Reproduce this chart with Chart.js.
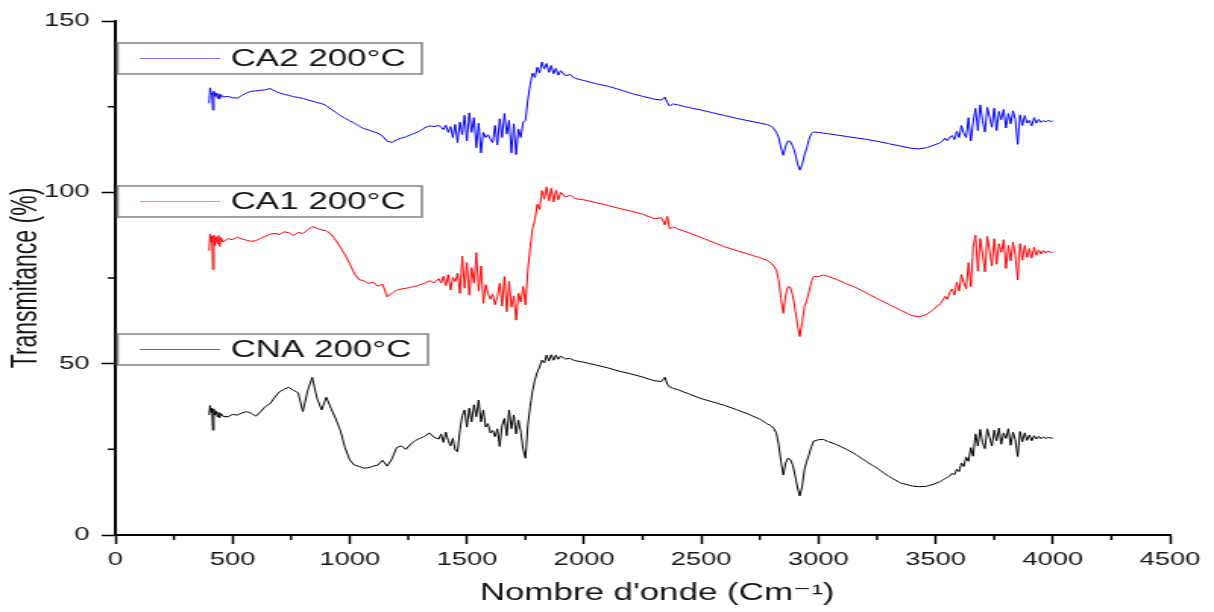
<!DOCTYPE html>
<html>
<head>
<meta charset="utf-8">
<title>Transmitance FTIR</title>
<script src="https://cdn.jsdelivr.net/npm/chart.js@4.4.1/dist/chart.umd.min.js"></script>
<style>
  html, body { margin: 0; padding: 0; background: #fff; }
</style>
</head>
<body>
<!-- the original figure is stretched horizontally, so the canvas is drawn narrow and widened -->
<canvas id="ftir" width="800" height="612" style="display:block;width:1214px;height:612px"></canvas>
<script>
// wavenumbers (cm-1) shared by the three spectra
const WAVENUMBERS = [
  400, 404, 408, 412, 416, 420, 425, 430, 435, 440, 445, 450, 460,
  480, 500, 520, 540, 560, 580, 600, 620, 640, 660, 680, 700, 720, 740, 760, 780, 800, 820, 840, 860,
  880, 900, 920, 940, 960, 980, 1000, 1020, 1040, 1060, 1080, 1100, 1120, 1140, 1160, 1180, 1200,
  1220, 1240, 1260, 1280, 1300, 1320, 1340, 1360, 1380,
  1390, 1400, 1410, 1420, 1430, 1440, 1450, 1460, 1470, 1480, 1490, 1500, 1510, 1520, 1530, 1540,
  1550, 1560, 1570, 1580, 1590, 1600, 1610, 1620, 1630, 1640, 1650, 1660, 1670, 1680, 1690, 1700,
  1710, 1720, 1730, 1740, 1750, 1760,
  1770, 1780, 1790, 1800, 1810, 1820, 1830, 1840, 1850, 1860, 1870, 1880, 1890, 1900, 1920, 1940, 1960,
  2000, 2050, 2100, 2150, 2200, 2250, 2300, 2330, 2345, 2355, 2365, 2380, 2400, 2450, 2500, 2550,
  2600, 2650, 2700, 2750, 2780,
  2800, 2810, 2820, 2830, 2840, 2850, 2860, 2870, 2880, 2890, 2900, 2910, 2920, 2930, 2940, 2950,
  2960, 2970, 2980, 3000, 3020, 3040,
  3080, 3120, 3160, 3200, 3250, 3300, 3350, 3400, 3430, 3460, 3490, 3520,
  3530, 3540, 3550, 3560, 3570, 3580, 3590, 3600, 3610, 3620, 3630, 3640, 3650, 3660, 3670, 3680,
  3690, 3700, 3710, 3720, 3730, 3740, 3750, 3760, 3770, 3780, 3790, 3800, 3810, 3820, 3830, 3840,
  3850, 3860, 3870, 3880, 3890, 3900, 3910, 3920, 3930, 3940, 3950, 3960, 3970, 3980, 3990, 4000
];

const CA2_200 = [
  126.0, 130.5, 129.0, 128.5, 124.0, 129.5, 128.0, 129.0, 127.5, 128.8, 127.2, 128.5, 127.8,
  128.0, 127.6, 127.5, 128.3, 129.0, 129.5, 129.6, 129.8, 129.9, 130.3, 129.6, 129.0, 128.6, 128.3, 127.9, 127.7, 127.4, 127.0, 126.6, 126.2,
  125.9, 125.3, 124.3, 123.3, 122.4, 121.6, 120.9, 120.2, 119.3, 118.6, 118.2, 117.7, 117.3, 116.4, 114.9, 114.6, 115.3,
  115.8, 116.2, 116.8, 117.3, 118.0, 118.8, 119.4, 119.2, 119.5,
  119.0, 118.3, 119.6, 117.5, 119.2, 116.0, 119.8, 114.5, 120.5, 116.8, 122.5, 115.0, 123.2, 117.5, 121.8, 113.0,
  120.2, 111.5, 117.5, 116.0, 116.8, 115.5, 114.5, 119.5, 113.8, 121.5, 116.0, 123.0, 117.0, 121.0, 111.5, 120.0,
  111.0, 118.5, 116.0, 120.5, 121.0, 127.0,
  131.5, 134.8, 133.5, 136.5, 134.8, 138.0, 136.0, 137.6, 135.0, 137.0, 134.6, 136.2, 134.2, 135.5, 134.0, 134.4, 133.3,
  132.6, 131.7, 131.0, 130.0, 128.9, 128.0, 127.2, 126.9, 127.8, 126.2, 125.2, 125.8, 125.5, 124.7, 124.0, 123.2,
  122.4, 121.6, 120.9, 120.2, 119.8,
  119.2, 118.5, 117.6, 116.0, 113.0, 110.8, 113.5, 115.0, 114.8, 113.5, 111.5, 108.5, 106.5, 108.0, 110.8, 113.0,
  115.5, 117.2, 117.6, 117.5, 117.3, 117.1,
  116.7, 116.3, 115.9, 115.5, 114.9, 114.2, 113.5, 112.8, 112.7, 113.0, 113.7, 114.5,
  115.0, 115.8, 115.1, 116.0, 116.6, 115.4, 117.8, 116.0, 119.5, 117.2, 116.0, 121.8, 115.0, 120.5, 124.5, 118.0,
  125.5, 121.0, 117.6, 124.8, 122.0, 119.0, 124.6, 118.0, 123.6, 121.2, 124.2, 118.8, 123.0, 120.0, 123.8, 121.2,
  114.0, 122.6, 119.5, 122.4, 120.2, 121.0, 119.4, 121.8, 120.2, 121.3, 120.4, 120.9, 120.6, 121.0, 120.7, 120.8
];

const CA1_200 = [
  83.0, 87.8, 85.5, 87.2, 77.5, 87.5, 84.5, 87.0, 85.0, 87.4, 84.2, 86.8, 85.5,
  86.5, 86.2, 86.9, 86.4, 86.0, 85.7, 85.9, 86.6, 87.2, 87.8, 88.0, 87.7, 88.5, 88.2, 87.4, 88.3, 88.0, 89.0, 90.0, 89.5,
  89.0, 88.8, 87.8, 86.0, 84.0, 81.8, 79.2, 76.2, 74.5, 74.2, 73.4, 73.8, 72.6, 73.2, 69.5, 70.6, 71.4,
  71.8, 72.0, 72.3, 72.6, 73.0, 73.5, 74.2, 73.6, 74.8,
  73.5, 75.5, 72.8, 76.0, 71.5, 75.2, 74.0, 76.4, 70.5, 81.4, 72.0, 79.5, 70.0, 78.0, 73.5, 82.4,
  71.2, 78.5, 67.6, 73.0, 70.5, 68.8, 70.2, 67.2, 69.6, 73.5, 66.8, 75.4, 65.2, 74.0, 66.5, 69.8,
  62.7, 70.5, 68.0, 72.5, 67.1, 77.3,
  84.0, 89.5, 92.0, 96.5, 95.0, 100.5, 98.0, 101.6, 97.5, 101.2, 97.2, 100.6, 97.8, 100.0, 98.6, 99.2, 98.2,
  97.8, 97.0, 96.2, 95.3, 94.5, 93.6, 92.3, 92.6, 90.5, 93.0, 89.3, 89.9, 89.3, 88.1, 86.8, 85.4,
  84.1, 83.0, 82.0, 80.9, 80.2,
  79.2, 78.4, 77.3, 74.5, 69.0, 64.7, 70.0, 72.5, 72.2, 70.0, 66.0, 61.5, 57.9, 62.0, 66.6, 68.5,
  71.0, 74.0, 75.4, 75.4, 75.9, 75.5,
  74.5, 73.3, 72.2, 70.8, 69.0, 67.3, 65.6, 64.0, 63.7, 64.3, 65.8, 67.5,
  68.5, 69.6, 68.8, 70.8, 71.8, 70.0, 73.8, 71.2, 76.0, 73.5, 71.8, 79.5, 72.5, 84.0, 87.5, 77.0,
  86.5, 82.0, 76.8, 87.2, 83.0, 78.5, 86.5, 79.0, 85.0, 82.5, 86.2, 77.8, 84.5, 80.0, 85.5, 81.5,
  74.4, 85.0, 80.2, 84.5, 81.0, 83.6, 80.8, 84.0, 81.6, 83.2, 82.0, 83.0, 82.3, 82.9, 82.5, 82.6
];

const CNA_200 = [
  35.0, 37.8, 35.8, 37.0, 30.6, 36.8, 35.0, 36.2, 34.5, 35.8, 34.2, 35.5, 34.6,
  34.5, 35.2, 35.0, 35.6, 36.0, 35.5, 34.7, 36.0, 37.5, 38.3, 40.2, 41.8, 42.5, 43.1, 42.2, 41.5, 36.0, 42.0, 46.0, 40.0,
  36.5, 40.2, 37.0, 34.0, 30.5, 25.5, 21.9, 20.4, 20.0, 19.5, 19.6, 20.1, 20.4, 21.8, 20.1, 22.2, 25.5,
  26.0, 25.0, 26.5, 27.6, 28.2, 28.8, 29.8, 28.5, 28.0,
  29.5, 27.0, 30.0, 27.6, 26.0, 28.2, 24.8, 24.3, 30.5, 34.8, 36.5, 31.5, 37.0, 33.0, 38.0, 34.5,
  39.4, 33.0, 36.5, 31.5, 32.5, 29.8, 30.5, 28.7, 31.0, 25.8, 32.0, 34.0, 29.0, 36.5, 31.0, 35.0,
  29.5, 33.5, 30.0, 25.0, 22.4, 32.0,
  37.5, 42.0, 45.2, 47.5, 49.0, 51.0, 50.2, 52.5, 50.8, 52.6, 51.0, 52.5, 51.3, 52.2, 51.4, 51.5, 50.9,
  50.4, 49.6, 48.8, 47.8, 47.0, 46.1, 45.0, 44.8, 46.0, 44.0, 43.2, 42.8, 42.4, 41.1, 39.8, 38.8,
  37.8, 36.6, 35.3, 33.8, 32.5,
  31.8, 31.0, 29.8, 26.5, 21.5, 17.5, 21.0, 22.4, 22.0, 20.5, 17.5, 14.0, 11.4, 14.0, 19.0, 21.5,
  23.5, 25.8, 27.4, 27.8, 27.9, 27.3,
  26.3, 25.0, 23.5, 21.6, 19.5, 17.1, 15.2, 14.3, 14.1, 14.2, 14.8, 15.6,
  16.0, 16.5, 16.8, 17.2, 18.0, 17.6, 19.2, 18.5, 21.0, 20.0, 22.8, 21.5, 25.5, 23.0, 29.5, 26.0,
  30.8, 27.0, 25.2, 31.0, 28.5, 26.0, 30.6, 27.5, 31.2, 26.5, 29.8, 28.2, 31.0, 26.2, 30.0, 27.8,
  22.9, 30.2, 27.2, 29.8, 27.6, 29.2, 27.5, 29.0, 28.0, 28.8, 28.1, 28.6, 28.2, 28.5, 28.3, 28.3
];

const SERIES_LABELS = ["CA2 200°C", "CA1 200°C", "CNA 200°C"];
const SERIES_COLORS = ["#0000ff", "#ff0000", "#000000"];
const LEGEND_SAMPLE_COLORS = ["#7a7aff", "#ff8a8a", "#707070"];
const X_TICK_STEP = 500;
const Y_TICK_STEP = 50;

const FONT = "'Liberation Sans', Arial, 'DejaVu Sans', sans-serif";

function toPoints(values) {
  return WAVENUMBERS.map(function(w, i) { return { x: w, y: values[i] }; });
}

// minor ticks halfway between the labelled ones
const minorTicks = {
  id: "minorTicks",
  afterDraw: function(chart) {
    const ctx = chart.ctx;
    const xs = chart.scales.x, ys = chart.scales.y;
    ctx.save();
    ctx.strokeStyle = "#000";
    ctx.lineWidth = 1.5;
    ctx.beginPath();
    for (let v = X_TICK_STEP / 2; v < xs.max; v += X_TICK_STEP) {
      const px = xs.getPixelForValue(v);
      ctx.moveTo(px, xs.top);
      ctx.lineTo(px, xs.top + 5);
    }
    for (let v = Y_TICK_STEP / 2; v < ys.max; v += Y_TICK_STEP) {
      const py = ys.getPixelForValue(v);
      ctx.moveTo(ys.right, py);
      ctx.lineTo(ys.right - 5, py);
    }
    ctx.stroke();
    ctx.restore();
  }
};

// one framed legend entry above each spectrum
const stackedLegend = {
  id: "stackedLegend",
  afterDraw: function(chart) {
    const ctx = chart.ctx;
    const area = chart.chartArea;
    const tops = [43, 186, 334];
    const rights = [278, 278, 282];
    ctx.save();
    tops.forEach(function(top, i) {
      const left = area.left + 1.5;
      const h = 31;
      ctx.fillStyle = "#fff";
      ctx.fillRect(left, top, rights[i] - left, h);
      ctx.strokeStyle = "#8a8a8a";
      ctx.lineWidth = 1.6;
      ctx.strokeRect(left, top, rights[i] - left, h);
      const cy = top + h / 2;
      ctx.strokeStyle = LEGEND_SAMPLE_COLORS[i];
      ctx.lineWidth = 1;
      ctx.beginPath();
      ctx.moveTo(92, cy);
      ctx.lineTo(145, cy);
      ctx.stroke();
      ctx.fillStyle = "#141414";
      ctx.font = "23px " + FONT;
      ctx.textBaseline = "middle";
      ctx.textAlign = "left";
      ctx.fillText(SERIES_LABELS[i], 152, cy + 1);
    });
    ctx.restore();
  }
};

new Chart(document.getElementById("ftir"), {
  type: "line",
  data: {
    datasets: [CA2_200, CA1_200, CNA_200].map(function(values, i) {
      return {
        label: SERIES_LABELS[i],
        data: toPoints(values),
        borderColor: SERIES_COLORS[i],
        borderWidth: 1,
        pointRadius: 0,
        tension: 0,
        fill: false
      };
    })
  },
  options: {
    responsive: false,
    devicePixelRatio: 1,
    animation: false,
    layout: { padding: { top: 21, right: 29, left: 0, bottom: 0 } },
    plugins: {
      legend: { display: false },
      tooltip: { enabled: false }
    },
    scales: {
      x: {
        type: "linear",
        min: 0,
        max: 4500,
        afterFit: function(scale) { scale.height = 77; },
        ticks: {
          stepSize: X_TICK_STEP,
          color: "#141414",
          padding: 5,
          maxRotation: 0,
          font: { family: FONT, size: 18 },
          callback: function(v) { return String(v); }
        },
        grid: { drawOnChartArea: false, drawTicks: true, tickLength: 9, tickWidth: 1.5, tickColor: "#000" },
        border: { display: true, color: "#000", width: 2 },
        title: {
          display: true,
          text: "   Nombre d'onde (Cm⁻¹)",
          color: "#141414",
          padding: { top: 0, bottom: 5 },
          font: { family: FONT, size: 23 }
        }
      },
      y: {
        min: 0,
        max: 150,
        afterFit: function(scale) { scale.width = 76; },
        ticks: {
          stepSize: Y_TICK_STEP,
          color: "#141414",
          padding: 8,
          font: { family: FONT, size: 18 },
          callback: function(v) { return String(v); }
        },
        grid: { drawOnChartArea: false, drawTicks: true, tickLength: 9, tickWidth: 1.5, tickColor: "#000" },
        border: { display: true, color: "#000", width: 2 },
        title: {
          display: true,
          text: "Transmitance (%)",
          color: "#141414",
          padding: { top: 4, bottom: 0 },
          font: { family: FONT, size: 23 }
        }
      }
    }
  },
  plugins: [minorTicks, stackedLegend]
});
</script>
</body>
</html>
